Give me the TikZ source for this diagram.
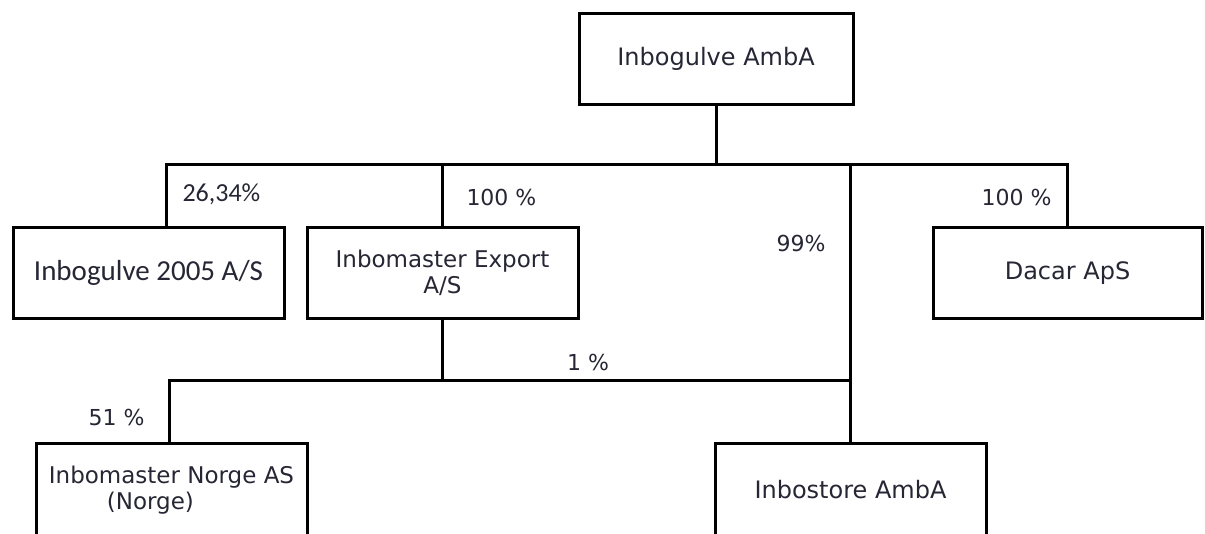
\documentclass[tikz,border=0pt]{standalone}
\usepackage{fontspec}
\setmainfont{DejaVu Sans}
\newfontfamily\calfont{Carlito}
\usetikzlibrary{positioning}
\definecolor{inktext}{RGB}{38,38,52}

\begin{document}
\begin{tikzpicture}[x=1pt,y=-1pt,line width=3pt,
    box/.style={rectangle,draw,minimum width=271pt,minimum height=91pt,inner sep=0pt,outer sep=0pt,font=\fontsize{24}{28}\selectfont,text=inktext,align=center},
    pct/.style={font=\fontsize{22}{26}\selectfont,text=inktext,inner sep=0pt}]
\useasboundingbox (0,0) rectangle (1205,534);
\clip (0,0) rectangle (1205,534);
			\node[box,minimum width=274pt] (top) at (716,59) {Inbogulve AmbA};
			\node[box,font=\fontsize{23}{26}\selectfont] (export) [below left=123pt and 1pt of top] {Inbomaster Export\\A/S};
			\node[box,font=\calfont\fontsize{29}{32}\selectfont] (i2005) [left=23pt of export] {Inbogulve 2005 A/S};
			\node[box,minimum width=269pt] (dacar) [right=355pt of export] {Dacar ApS};
			\node[box,align=left,minimum height=93pt,font=\fontsize{23}{26}\selectfont] (norge) [below left=125pt and 0pt of export] {Inbomaster Norge AS\\\hspace*{58pt}(Norge)};
			\node[box,minimum height=93pt] (store) [below right=125pt and 137pt of export] {Inbostore AmbA};
			% bus lines
			\coordinate (bus) at ([yshift=-60pt]top.south);
			\coordinate (bus2) at ([yshift=-62pt]export.south);
			\draw (top) -- (bus);
			\draw ([xshift=18pt]i2005.north) |- (bus);
			\draw (export) |- (bus);
			\draw (dacar) |- (bus);
			\draw (store) -- (store |- bus);
			\draw (export) -- (bus2);
			\draw ([xshift=-2pt]norge.north) |- (bus2) -- (bus2 -| store);
			% shares
			\node[pct,font=\calfont\fontsize{26}{30}\selectfont,anchor=west] (p2005) at (181,194) {26,34\%};
			\node[pct,anchor=west] (pexport) at (465,197) {100 \%};
			\node[pct,anchor=east] (pstore) at (827,243) {99\%};
			\node[pct,anchor=east] (pdacar) at (1053,197) {100 \%};
			\node[pct] (pone) at (588,362) {1 \%};
			\node[pct,anchor=east] (pnorge) at (146,417) {51 \%};
		\end{tikzpicture}
\end{document}
